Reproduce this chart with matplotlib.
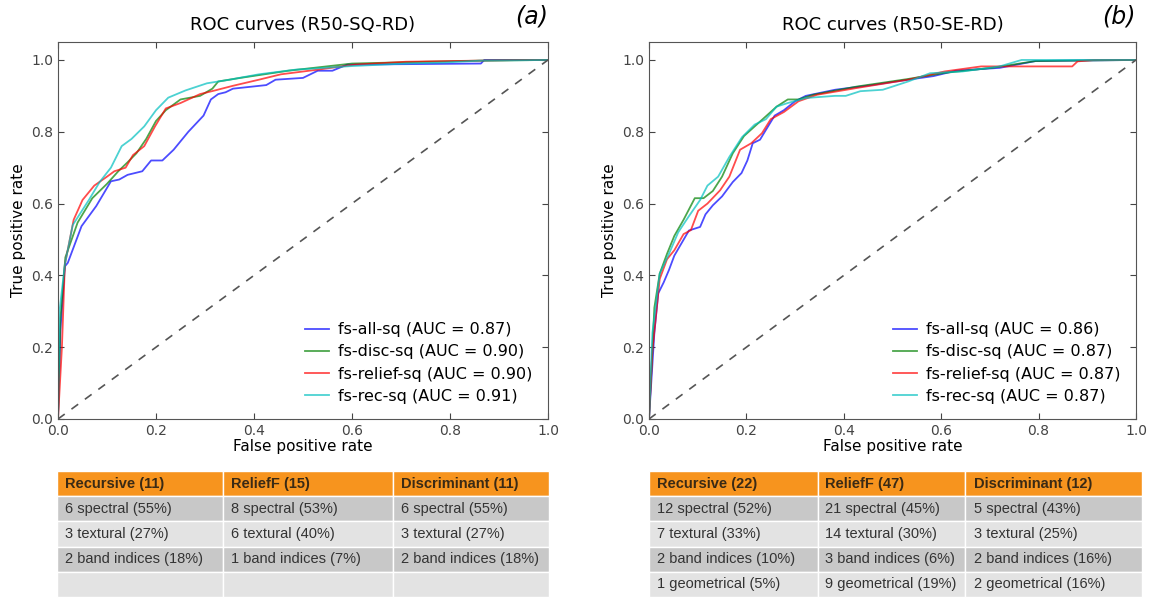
import matplotlib
matplotlib.use('Agg')
import matplotlib.pyplot as plt

plt.rcParams['font.family'] = ['DejaVu Sans']

# ---- panel (a) R50-SQ-RD ----
a_all_x = [0, 0.005, 0.014, 0.02, 0.048, 0.078, 0.108, 0.125, 0.142, 0.172, 0.19, 0.213, 0.236, 0.266, 0.297,
           0.312, 0.327, 0.342, 0.357, 0.425, 0.444, 0.50, 0.53, 0.56, 0.59, 0.863, 0.87, 1.0]
a_all_y = [0, 0.25, 0.425, 0.435, 0.537, 0.593, 0.662, 0.667, 0.68, 0.69, 0.72, 0.72, 0.75, 0.80, 0.845,
           0.89, 0.905, 0.91, 0.92, 0.93, 0.945, 0.95, 0.97, 0.97, 0.987, 0.99, 1.0, 1.0]
a_disc_x = [0, 0.005, 0.015, 0.04, 0.07, 0.10, 0.123, 0.142, 0.16, 0.18, 0.20, 0.22, 0.25, 0.29, 0.315,
            0.327, 0.372, 0.47, 0.60, 0.75, 0.86, 1.0]
a_disc_y = [0, 0.28, 0.45, 0.547, 0.615, 0.655, 0.69, 0.715, 0.74, 0.78, 0.83, 0.86, 0.89, 0.90, 0.92,
            0.94, 0.95, 0.97, 0.99, 0.995, 0.998, 1.0]
a_rel_x = [0, 0.008, 0.014, 0.032, 0.05, 0.074, 0.10, 0.115, 0.138, 0.153, 0.176, 0.198, 0.22, 0.25, 0.29,
           0.32, 0.357, 0.41, 0.455, 0.53, 0.606, 0.71, 0.95, 1.0]
a_rel_y = [0, 0.2, 0.43, 0.555, 0.61, 0.65, 0.675, 0.69, 0.70, 0.735, 0.76, 0.815, 0.865, 0.88, 0.905,
           0.915, 0.928, 0.945, 0.96, 0.973, 0.987, 0.995, 1.0, 1.0]
a_rec_x = [0, 0.003, 0.014, 0.03, 0.063, 0.085, 0.108, 0.13, 0.15, 0.176, 0.20, 0.225, 0.26, 0.304, 0.35,
           0.41, 0.485, 0.60, 0.71, 0.79, 0.86, 1.0]
a_rec_y = [0, 0.3, 0.43, 0.54, 0.61, 0.66, 0.70, 0.76, 0.78, 0.815, 0.86, 0.895, 0.915, 0.935, 0.945,
           0.96, 0.973, 0.983, 0.99, 0.993, 0.998, 1.0]
a_labels = ['fs-all-sq (AUC = 0.87)', 'fs-disc-sq (AUC = 0.90)',
            'fs-relief-sq (AUC = 0.90)', 'fs-rec-sq (AUC = 0.91)']

# ---- panel (b) R50-SE-RD ----
b_all_x = [0, 0.011, 0.019, 0.03, 0.041, 0.052, 0.067, 0.082, 0.105, 0.116, 0.131, 0.15, 0.172, 0.19, 0.202,
           0.213, 0.228, 0.24, 0.258, 0.277, 0.30, 0.322, 0.382, 0.457, 0.532, 0.584, 0.63, 0.72, 0.794, 1.0]
b_all_y = [0, 0.24, 0.35, 0.38, 0.415, 0.455, 0.49, 0.525, 0.535, 0.57, 0.595, 0.62, 0.66, 0.685, 0.72,
           0.768, 0.778, 0.805, 0.845, 0.86, 0.885, 0.90, 0.917, 0.93, 0.945, 0.955, 0.97, 0.978, 0.997, 1.0]
b_disc_x = [0, 0.011, 0.022, 0.037, 0.052, 0.071, 0.094, 0.112, 0.131, 0.15, 0.172, 0.195, 0.217, 0.24,
            0.262, 0.285, 0.307, 0.337, 0.427, 0.532, 0.607, 0.704, 0.794, 1.0]
b_disc_y = [0, 0.31, 0.405, 0.46, 0.51, 0.555, 0.615, 0.615, 0.635, 0.675, 0.74, 0.788, 0.815, 0.843,
            0.87, 0.89, 0.89, 0.903, 0.926, 0.947, 0.964, 0.978, 0.997, 1.0]
b_rel_x = [0, 0.007, 0.022, 0.037, 0.052, 0.071, 0.086, 0.101, 0.12, 0.146, 0.165, 0.187, 0.21, 0.232, 0.25,
           0.277, 0.307, 0.345, 0.427, 0.532, 0.607, 0.682, 0.869, 0.88, 0.914, 1.0]
b_rel_y = [0, 0.19, 0.39, 0.445, 0.47, 0.515, 0.526, 0.58, 0.60, 0.637, 0.675, 0.75, 0.768, 0.796, 0.835,
           0.855, 0.885, 0.903, 0.922, 0.945, 0.968, 0.982, 0.982, 0.996, 1.0, 1.0]
b_rec_x = [0, 0.007, 0.022, 0.041, 0.06, 0.082, 0.105, 0.12, 0.142, 0.165, 0.191, 0.217, 0.24, 0.262, 0.285,
           0.322, 0.382, 0.404, 0.434, 0.48, 0.532, 0.577, 0.644, 0.72, 0.765, 1.0]
b_rec_y = [0, 0.24, 0.405, 0.46, 0.52, 0.565, 0.61, 0.65, 0.675, 0.73, 0.785, 0.82, 0.835, 0.87, 0.88,
           0.894, 0.90, 0.90, 0.913, 0.917, 0.94, 0.963, 0.968, 0.982, 1.0, 1.0]
b_labels = ['fs-all-sq (AUC = 0.86)', 'fs-disc-sq (AUC = 0.87)',
            'fs-relief-sq (AUC = 0.87)', 'fs-rec-sq (AUC = 0.87)']

# ---- tables ----
a_header = ['Recursive (11)', 'ReliefF (15)', 'Discriminant (11)']
a_rows = [['6 spectral (55%)', '8 spectral (53%)', '6 spectral (55%)'],
          ['3 textural (27%)', '6 textural (40%)', '3 textural (27%)'],
          ['2 band indices (18%)', '1 band indices (7%)', '2 band indices (18%)'],
          ['', '', '']]
b_header = ['Recursive (22)', 'ReliefF (47)', 'Discriminant (12)']
b_rows = [['12 spectral (52%)', '21 spectral (45%)', '5 spectral (43%)'],
          ['7 textural (33%)', '14 textural (30%)', '3 textural (25%)'],
          ['2 band indices (10%)', '3 band indices (6%)', '2 band indices (16%)'],
          ['1 geometrical (5%)', '9 geometrical (19%)', '2 geometrical (16%)']]

colors = ['b', 'g', 'r', 'c']

fig = plt.figure(figsize=(11.56, 5.99), dpi=100)


def roc_panel(rect, curves, labels, title, tag):
    ax = fig.add_axes(rect)
    for (x, y), lab, c in zip(curves, labels, colors):
        ax.plot(x, y, color=c, alpha=0.7, lw=1.3, label=lab)
    ax.plot([0, 1], [0, 1], ls='--', color='#555555', lw=1.2, dashes=(5, 5))
    ax.set_xlim(0, 1)
    ax.set_ylim(0, 1.05)
    ax.set_xticks([0, 0.2, 0.4, 0.6, 0.8, 1.0])
    ax.set_yticks([0, 0.2, 0.4, 0.6, 0.8, 1.0])
    ax.tick_params(direction='in', top=True, right=True, labelsize=10,
                   colors='#444444', length=4)
    for s in ax.spines.values():
        s.set_color('#555555')
    ax.set_xlabel('False positive rate', fontsize=11, labelpad=1)
    ax.set_ylabel('True positive rate', fontsize=11, labelpad=4)
    ax.set_title(title, fontsize=13, pad=9)
    ax.text(1.0, 1.035, tag, transform=ax.transAxes, ha='right', va='bottom',
            fontsize=17, style='italic')
    ax.legend(loc='lower right', frameon=False, fontsize=11.5, handlelength=1.5,
              handletextpad=0.6, labelspacing=0.45, borderaxespad=0.55)
    return ax


def feat_table(rect, header, rows, widths):
    tax = fig.add_axes(rect)
    tax.axis('off')
    cell_colors = [['#F7941E'] * 3]
    shades = ['#C8C8C8', '#E3E3E3']
    for i in range(len(rows)):
        cell_colors.append([shades[i % 2]] * 3)
    tbl = tax.table(cellText=[header] + rows, cellColours=cell_colors,
                    colWidths=widths, cellLoc='left', bbox=[0, 0, 1, 1])
    tbl.auto_set_font_size(False)
    for (r, c), cell in tbl.get_celld().items():
        cell.set_edgecolor('white')
        cell.set_linewidth(1.0)
        cell.PAD = 0.05
        t = cell.get_text()
        t.set_fontsize(10.5)
        t.set_family(['Liberation Sans', 'DejaVu Sans'])
        t.set_color('#333333')
        if r == 0:
            t.set_weight('bold')
            t.set_color('#3a2a15')
    return tax


roc_panel([58 / 1156, 1 - 419 / 599, 490 / 1156, 377 / 599],
          [(a_all_x, a_all_y), (a_disc_x, a_disc_y), (a_rel_x, a_rel_y), (a_rec_x, a_rec_y)],
          a_labels, 'ROC curves (R50-SQ-RD)', '(a)')
roc_panel([649 / 1156, 1 - 419 / 599, 487 / 1156, 377 / 599],
          [(b_all_x, b_all_y), (b_disc_x, b_disc_y), (b_rel_x, b_rel_y), (b_rec_x, b_rec_y)],
          b_labels, 'ROC curves (R50-SE-RD)', '(b)')

feat_table([57 / 1156, 1 - 597 / 599, 492 / 1156, 126 / 599], a_header, a_rows,
           [0.337, 0.346, 0.317])
feat_table([649 / 1156, 1 - 597 / 599, 493 / 1156, 126 / 599], b_header, b_rows,
           [0.343, 0.298, 0.359])

fig.savefig('out.png', dpi=100, facecolor='white')
